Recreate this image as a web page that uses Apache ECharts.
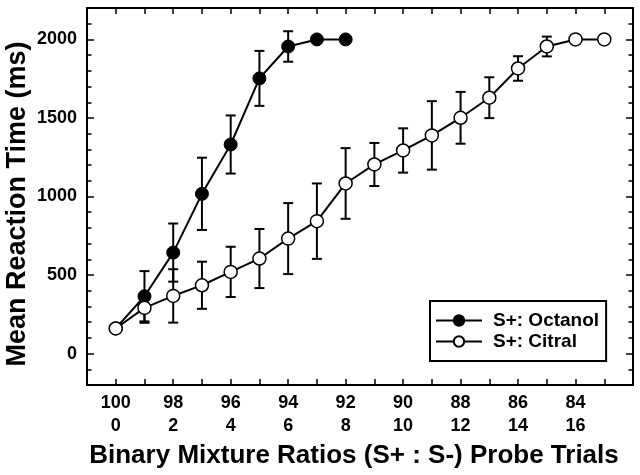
<!DOCTYPE html>
<html><head><meta charset="utf-8">
<script src="https://cdn.jsdelivr.net/npm/echarts@6/dist/echarts.min.js"></script>
<style>html,body{margin:0;padding:0;background:#fff}#c{width:640px;height:475px}</style>
</head><body><div id="c"></div>
<script>
// ---- data ----
const xLabelPositions = [0, 2, 4, 6, 8, 10, 12, 14, 16];
const sPlusLabels = ['100', '98', '96', '94', '92', '90', '88', '86', '84'];
const sMinusLabels = ['0', '2', '4', '6', '8', '10', '12', '14', '16'];
const yLabelValues = [0, 500, 1000, 1500, 2000];

const octanolX = [0, 1, 2, 3, 4, 5, 6, 7, 8];
const octanolMean = [160, 365, 643, 1017, 1331, 1752, 1955, 2000, 2000];
const octanolErr = [0, 160, 185, 230, 185, 175, 97, 0, 0];

const citralX = [0, 1, 2, 3, 4, 5, 6, 7, 8, 9, 10, 11, 12, 13, 14, 15, 16, 17];
const citralMean = [160, 291, 367, 435, 520, 605, 732, 843, 1083, 1204, 1293, 1389, 1501, 1629, 1815, 1955, 2000, 2000];
const citralErr = [0, 95, 170, 150, 160, 188, 226, 240, 225, 137, 141, 218, 165, 130, 78, 63, 0, 0];

// ---- build ----
const FONT = '"Liberation Sans", Arial, sans-serif';
const zip = (xs, ys) => xs.map((x, i) => [x, ys[i]]);
const errData = (xs, m, e) => xs.map((x, i) => [x, m[i] - e[i], m[i] + e[i]]).filter((d, i) => e[i] > 0);

function errRender(params, api) {
  const x = api.value(0), lo = api.value(1), hi = api.value(2);
  const a = api.coord([x, hi]), b = api.coord([x, lo]);
  const hw = 5;
  const st = { stroke: '#000', lineWidth: 2 };
  return { type: 'group', children: [
    { type: 'line', shape: { x1: a[0], y1: a[1], x2: b[0], y2: b[1] }, style: st },
    { type: 'line', shape: { x1: a[0] - hw, y1: a[1], x2: a[0] + hw, y2: a[1] }, style: st },
    { type: 'line', shape: { x1: b[0] - hw, y1: b[1], x2: b[0] + hw, y2: b[1] }, style: st }
  ]};
}

const axLine = { show: true, onZero: false, lineStyle: { color: '#000', width: 2 } };
const noLine = { show: false, onZero: false };
const xBase = { type: 'value', min: -1, max: 18, interval: 1, axisLine: axLine, splitLine: { show: false },
  axisTick: { show: true, inside: true, length: 6, lineStyle: { color: '#000', width: 1.5 } } };
const yBase = { type: 'value', min: -200, max: 2200, interval: 100, splitLine: { show: false } };

const chart = echarts.init(document.getElementById('c'), null, { renderer: 'canvas' });
chart.setOption({
  animation: false,
  backgroundColor: '#fff',
  grid: { left: 87, right: 7, top: 8, bottom: 90, containLabel: false, outerBoundsMode: 'none' },
  xAxis: [
    Object.assign({}, xBase, {
      position: 'bottom',
      name: 'Binary Mixture Ratios (S+ : S-) Probe Trials',
      nameLocation: 'middle', nameGap: 58,
      nameTextStyle: { fontFamily: FONT, fontSize: 26, fontWeight: 'bold', color: '#000', padding: [0, 12, 0, 0] },
      axisLabel: {
        show: true, customValues: xLabelPositions, margin: 7,
        fontFamily: FONT, fontSize: 18, fontWeight: 'bold', color: '#000', lineHeight: 23,
        formatter: v => { const i = xLabelPositions.indexOf(v); return i < 0 ? '' : sPlusLabels[i] + '\n' + sMinusLabels[i]; }
      }
    }),
    Object.assign({}, xBase, { position: 'top', axisLabel: { show: false } })
  ],
  yAxis: [
    Object.assign({}, yBase, {
      position: 'left', axisLine: axLine,
      axisTick: { show: true, inside: true, length: 4.5, lineStyle: { color: '#000', width: 1.5 } },
      name: 'Mean Reaction Time (ms)', nameLocation: 'middle', nameGap: 56, nameMoveOverlap: false,
      nameTextStyle: { fontFamily: FONT, fontSize: 27, fontWeight: 'bold', color: '#000', padding: [0, 15, 0, 0] },
      axisLabel: { show: true, customValues: yLabelValues, margin: 10,
        fontFamily: FONT, fontSize: 18, fontWeight: 'bold', color: '#000', formatter: v => String(v) }
    }),
    Object.assign({}, yBase, {
      position: 'left', axisLine: noLine,
      axisTick: { show: true, inside: true, length: 7, customValues: yLabelValues, lineStyle: { color: '#000', width: 1.5 } },
      axisLabel: { show: false }
    }),
    Object.assign({}, yBase, {
      position: 'right', axisLine: axLine,
      axisTick: { show: true, inside: true, length: 4.5, lineStyle: { color: '#000', width: 1.5 } },
      axisLabel: { show: false }
    }),
    Object.assign({}, yBase, {
      position: 'right', axisLine: noLine,
      axisTick: { show: true, inside: true, length: 7, customValues: yLabelValues, lineStyle: { color: '#000', width: 1.5 } },
      axisLabel: { show: false }
    })
  ],
  legend: {
    orient: 'vertical', left: 430, top: 301,
    borderColor: '#000', borderWidth: 2, borderRadius: 0,
    padding: [10, 7, 10, 5],
    itemWidth: 46, itemHeight: 13, itemGap: 2,
    textStyle: { fontFamily: FONT, fontSize: 19, fontWeight: 'bold', color: '#000', padding: [0, 0, 0, 6] },
    data: ['S+: Octanol', 'S+: Citral']
  },
  series: [
    { type: 'custom', name: 'errOct', renderItem: errRender, data: errData(octanolX, octanolMean, octanolErr), z: 1, silent: true },
    { type: 'custom', name: 'errCit', renderItem: errRender, data: errData(citralX, citralMean, citralErr), z: 1, silent: true },
    { type: 'line', name: 'S+: Octanol', data: zip(octanolX, octanolMean), z: 3,
      symbol: 'circle', symbolSize: 13,
      lineStyle: { color: '#000', width: 2 },
      itemStyle: { color: '#000', borderColor: '#000', borderWidth: 1 } },
    { type: 'line', name: 'S+: Citral', data: zip(citralX, citralMean), z: 4,
      symbol: 'circle', symbolSize: 13,
      lineStyle: { color: '#000', width: 2 },
      itemStyle: { color: '#fff', borderColor: '#000', borderWidth: 1.5 } }
  ]
});
</script>
</body></html>
